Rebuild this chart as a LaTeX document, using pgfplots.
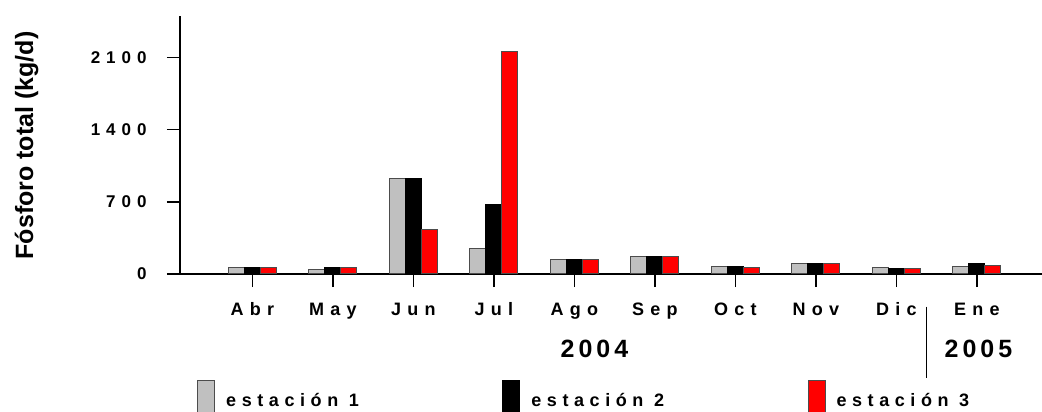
\documentclass[border=0pt]{standalone}
\usepackage{fontspec}
\setmainfont{Liberation Sans}
\newfontfamily\lsfont{Liberation Sans Bold}[LetterSpace=35]
\newfontfamily\lgfont{Liberation Sans Bold}[LetterSpace=31]
\newfontfamily\yrfont{Liberation Sans Bold}[LetterSpace=16]
\newfontfamily\lbfont{Liberation Sans Bold}
\usepackage{pgfplots}
\pgfplotsset{compat=1.18}
\definecolor{silv}{RGB}{192,192,192}
\definecolor{myred}{RGB}{255,0,0}
\pgfplotstableread{
x s1 s2 s3
0 65 65 65
1 48 65 65
2 928 925 433
3 249 676 2155
4 143 143 136
5 172 172 172
6 68 68 65
7 104 104 104
8 65 58 58
9 68 104 84
}\datatab
\begin{document}
\begin{tikzpicture}
\begin{axis}[
  at={(180pt,138pt)}, anchor=south west,
  scale only axis, width=862pt, height=258pt,
  xmin=-0.9, xmax=9.81, ymin=0, ymax=2500,
  clip=false,
  axis x line=bottom, axis y line=left,
  axis line style={-, line width=1.5pt},
  xtick={0,...,9},
  xticklabels={Abr,May,Jun,Jul,Ago,Sep,Oct,Nov,Dic,Ene},
  ytick={0,700,1400,2100},
  yticklabels={0,700,1400,2100},
  tick align=outside, major tick length=13pt,
  tick style={line width=1.5pt, black},
  xticklabel style={font=\lsfont\fontsize{18}{18}\selectfont, anchor=base, yshift=-28pt},
  yticklabel style={font=\lsfont\fontsize{17}{17}\selectfont, anchor=east, xshift=-17pt},
  ylabel={Fósforo total (kg/d)},
  ylabel style={font=\lbfont\fontsize{25}{25}\selectfont, at={(axis description cs:-0.1705,0.498)}, anchor=base},
  ybar=0pt, bar width=16pt,
  legend columns=3,
  legend style={draw=none, fill=none, inner sep=0pt, row sep=0pt,
    at={(axis description cs:0.0197,-0.4109)}, anchor=north west,
    font=\lgfont\fontsize{18}{18}\selectfont,
    nodes={inner sep=0pt},
    /tikz/every odd column/.append style={column sep=11pt},
    /tikz/every even column/.append style={column sep=143.5pt}},
  legbox/.style={legend image code/.code={\draw[##1, line width=1pt] (0pt,-13pt) rectangle (17pt,20pt);}},
]
\addplot[fill=silv, draw=black!70, line width=1pt, legbox] table[x=x,y=s1] {\datatab};
\addplot[fill=black, draw=black, line width=1pt, legbox] table[x=x,y=s2] {\datatab};
\addplot[fill=myred, draw=black!70, line width=1pt, legbox] table[x=x,y=s3] {\datatab};
\legend{estación 1, estación 2, estación 3}
\node[anchor=base, font=\yrfont\fontsize{25}{25}\selectfont] at (axis cs:4.25,0) [yshift=-83.3pt] {2004};
\node[anchor=base, font=\yrfont\fontsize{25}{25}\selectfont] at (axis cs:9.02,0) [yshift=-83.3pt] {2005};
\draw[line width=1.2pt] (axis cs:8.375,0) ++(0pt,-32.7pt) -- ++(0pt,-71.3pt);
\end{axis}
\pgfresetboundingbox
\path[use as bounding box] (0pt,0pt) rectangle (1042pt,412pt);
\end{tikzpicture}
\end{document}
